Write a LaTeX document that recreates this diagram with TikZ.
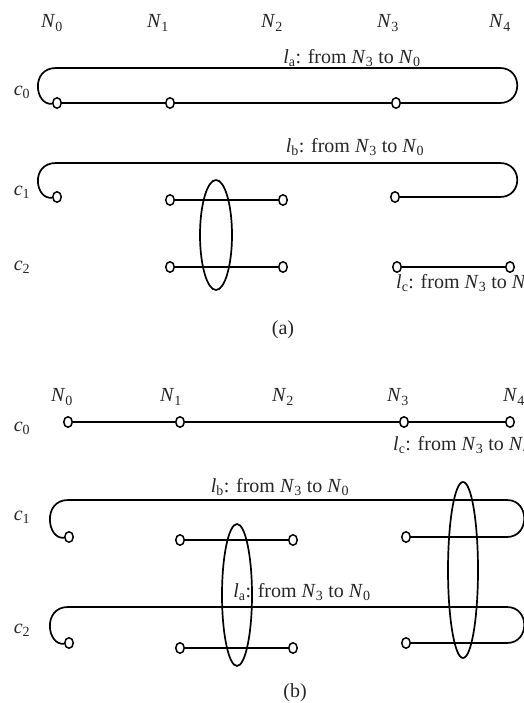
\documentclass[tikz,border=0pt]{standalone}
\usepackage{fontspec}
\setmainfont{Liberation Serif}
\usetikzlibrary{shapes.geometric}
\newcommand{\nm}[2]{\textit{#1}\textsubscript{#2}}

\begin{document}
\begin{tikzpicture}[x=1pt,y=-1pt,
        port/.style={draw,ellipse,inner sep=0pt,minimum width=8.5pt,minimum height=10.5pt,line width=1.5pt,fill=white},
        wire/.style={line width=1.7pt},
        lab/.style={font=\fontsize{20}{24}\selectfont,inner sep=0pt,text=black!85}]
        \useasboundingbox (0,0) rectangle (523,703);
        % (a)
        \node[lab] (aN0) at (52, 23) {\nm{N}{0}};
        \node[lab] (aN1) at (158, 23) {\nm{N}{1}};
        \node[lab] (aN2) at (272, 23) {\nm{N}{2}};
        \node[lab] (aN3) at (388, 23) {\nm{N}{3}};
        \node[lab] (aN4) at (500, 23) {\nm{N}{4}};
        \node[lab] (ac0) at (22, 92) {\nm{c}{0}};
        \node[lab] (ac1) at (22, 192) {\nm{c}{1}};
        \node[lab] (ac2) at (22, 267) {\nm{c}{2}};
        \node[port] (a0n0) at (57, 103) {};
        \node[port] (a0n1) at (170, 103) {};
        \node[port] (a0n3) at (396, 103) {};
        \node[port] (a1n0) at (57, 197) {};
        \node[port] (a1n1) at (170, 200) {};
        \node[port] (a1n2) at (283, 200) {};
        \node[port] (a1n3) at (395, 197) {};
        \node[port] (a2n1) at (170, 267) {};
        \node[port] (a2n2) at (283, 267) {};
        \node[port] (a2n3) at (397, 267) {};
        \node[port] (a2n4) at (510, 267) {};
        \draw[wire] (a0n0) .. controls (35, 106) and (30, 68) .. (56, 68) -- (500, 68) .. controls (523, 68) and (523, 103) .. (500, 103) -- (a0n3);
        \draw[wire] (a0n0) -- (a0n1) -- (a0n3);
        \draw[wire] (a1n0) .. controls (35, 200) and (30, 163) .. (56, 163) -- (500, 163) .. controls (523, 163) and (523, 197) .. (500, 197) -- (a1n3);
        \draw[wire] (a1n1) -- (a1n2);
        \draw[wire] (a2n1) -- (a2n2);
        \draw[wire] (a2n3) -- (a2n4);
        \draw[wire] (216, 235) ellipse [x radius=16, y radius=55];
        \node[lab] (ala) at (352, 58) {\nm{l}{a}: from \nm{N}{3} to \nm{N}{0}};
        \node[lab] (alb) at (355, 147) {\nm{l}{b}: from \nm{N}{3} to \nm{N}{0}};
        \node[lab,anchor=west] (alc) at (396, 283) {\nm{l}{c}: from \nm{N}{3} to \nm{N}{4}};
        \node[lab] (acap) at (283, 330) {(a)};
        % (b)
        \node[lab] (bN0) at (62, 397) {\nm{N}{0}};
        \node[lab] (bN1) at (171, 397) {\nm{N}{1}};
        \node[lab] (bN2) at (283, 397) {\nm{N}{2}};
        \node[lab] (bN3) at (398, 397) {\nm{N}{3}};
        \node[lab] (bN4) at (514, 397) {\nm{N}{4}};
        \node[lab] (bc0) at (22, 428) {\nm{c}{0}};
        \node[lab] (bc1) at (22, 517) {\nm{c}{1}};
        \node[lab] (bc2) at (22, 630) {\nm{c}{2}};
        \node[port] (b0n0) at (68, 422) {};
        \node[port] (b0n1) at (180, 422) {};
        \node[port] (b0n3) at (404, 422) {};
        \node[port] (b0n4) at (510, 422) {};
        \node[port] (b1n0) at (69, 537) {};
        \node[port] (b1n1) at (180, 540) {};
        \node[port] (b1n2) at (293, 540) {};
        \node[port] (b1n3) at (406, 537) {};
        \node[port] (b2n0) at (69, 643) {};
        \node[port] (b2n1) at (180, 648) {};
        \node[port] (b2n2) at (293, 648) {};
        \node[port] (b2n3) at (406, 643) {};
        \draw[wire] (b0n0) -- (b0n1) -- (b0n3) -- (b0n4);
        \draw[wire] (b1n0) .. controls (47, 540) and (42, 500) .. (68, 500) -- (507, 500) .. controls (530, 500) and (530, 537) .. (507, 537) -- (b1n3);
        \draw[wire] (b1n1) -- (b1n2);
        \draw[wire] (b2n0) .. controls (47, 646) and (42, 607) .. (68, 607) -- (507, 607) .. controls (530, 607) and (530, 643) .. (507, 643) -- (b2n3);
        \draw[wire] (b2n1) -- (b2n2);
        \draw[wire] (237, 595) ellipse [x radius=15, y radius=71];
        \draw[wire] (463, 570) ellipse [x radius=15, y radius=88];
        \node[lab,anchor=west] (blc) at (393, 445) {\nm{l}{c}: from \nm{N}{3} to \nm{N}{4}};
        \node[lab] (blb) at (280, 487) {\nm{l}{b}: from \nm{N}{3} to \nm{N}{0}};
        \node[lab] (bla) at (302, 592) {\nm{l}{a}: from \nm{N}{3} to \nm{N}{0}};
        \node[lab] (bcap) at (295, 693) {(b)};
    \end{tikzpicture}
\end{document}
